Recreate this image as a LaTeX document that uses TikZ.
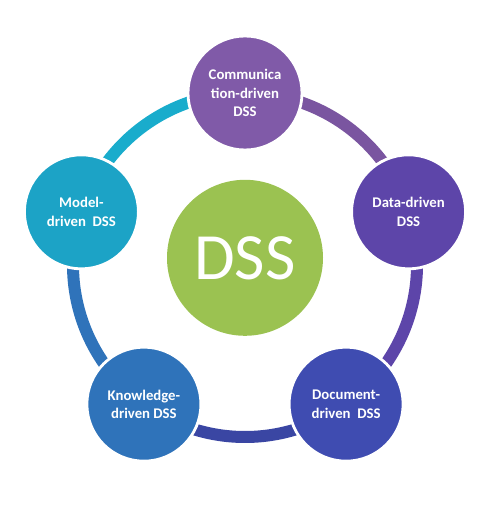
\documentclass[tikz,border=0pt]{standalone}
\usepackage{fontspec}
\setmainfont{Carlito}
\usepackage{tikz}
\usetikzlibrary{backgrounds}

\definecolor{commC}{RGB}{128,90,168}
\definecolor{dataC}{RGB}{93,69,169}
\definecolor{docC}{RGB}{63,76,177}
\definecolor{knowC}{RGB}{47,115,186}
\definecolor{modelC}{RGB}{28,163,198}
\definecolor{dssC}{RGB}{155,194,81}

\begin{document}
\begin{tikzpicture}[
  font=\bfseries,
  kind/.style={circle, draw=white, line width=2pt, text=white, minimum size=2.85cm,
    inner sep=0pt, align=center, font=\fontsize{10.5}{13}\selectfont\bfseries},
  ring/.style={line width=0.3cm},
]
\useasboundingbox (-6.125,-6.2) rectangle (6.025,6.625);

\node[kind, fill=commC]  (comm)  at (90:4.3)   {Communica\\tion-driven\\DSS};
\node[kind, fill=dataC]  (data)  at (18:4.3)   {Data-driven\\DSS};
\node[kind, fill=docC]   (doc)   at (-54:4.3)  {Document-\\driven~~DSS};
\node[kind, fill=knowC]  (know)  at (-126:4.3) {Knowledge-\\driven DSS};
\node[kind, fill=modelC] (model) at (162:4.3)  {Model-\\driven~~DSS};

\node[circle, fill=dssC, minimum size=3.9cm, text=white,
  font=\fontsize{47}{50}\selectfont] (dss) at (0,0.18) {DSS};

\begin{scope}[on background layer]
\draw[ring, commC!95!black]  (comm.center)  arc[start angle=90,   end angle=18,   radius=4.3];
\draw[ring, dataC]           (data.center)  arc[start angle=18,   end angle=-54,  radius=4.3];
\draw[ring, docC!92!black]   (doc.center)   arc[start angle=-54,  end angle=-126, radius=4.3];
\draw[ring, knowC]           (know.center)  arc[start angle=-126, end angle=-198, radius=4.3];
\draw[ring, modelC!90!cyan]  (model.center) arc[start angle=162,  end angle=90,   radius=4.3];
\end{scope}
\end{tikzpicture}
\end{document}
